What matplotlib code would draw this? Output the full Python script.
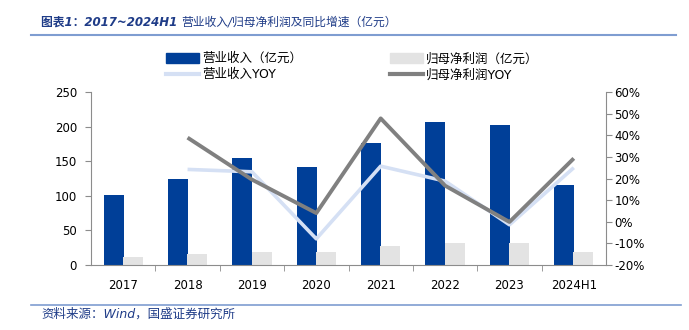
import matplotlib

matplotlib.use("Agg")
import matplotlib.pyplot as plt
from matplotlib.lines import Line2D
from matplotlib.patches import Patch
from matplotlib.ticker import FixedLocator
import numpy as np

plt.rcParams["font.family"] = ["DejaVu Sans", "Noto Sans CJK SC"]

# data
years = ["2017", "2018", "2019", "2020", "2021", "2022", "2023", "2024H1"]
revenue = [101, 125, 154, 141, 176, 207, 203, 116]          # 亿元
net_profit = [11, 15.5, 18.5, 18.5, 27.5, 32.5, 32, 19]     # 亿元
revenue_yoy = [None, 24.2, 23.1, -7.9, 25.7, 18.8, -1.4, 25.0]    # %
profit_yoy = [None, 38.9, 19.5, 4.0, 47.8, 16.7, -0.1, 29.3]      # %

left_ticks = [0, 50, 100, 150, 200, 250]
right_ticks = [-20, -10, 0, 10, 20, 30, 40, 50, 60]

C_REV = "#003F98"
C_PROFIT = "#E3E3E3"
C_REV_YOY = "#D5E0F4"
C_PROFIT_YOY = "#808080"
C_TITLE = "#1F3C88"
C_RULE = "#7F9DD1"
C_AXIS = "#8C8C8C"

fig = plt.figure(figsize=(6.89, 3.30), dpi=100)
ax = fig.add_axes([91 / 689, 1 - 265 / 330, (606 - 91) / 689, (265 - 92) / 330])
ax2 = ax.twinx()

x = np.arange(len(years))
w = 0.31
ax.bar(x - 0.15, revenue, width=w, color=C_REV, zorder=2)
ax.bar(x + 0.15, net_profit, width=w, color=C_PROFIT, zorder=2)

xs = x[1:]
ax2.plot(xs, revenue_yoy[1:], color=C_REV_YOY, linewidth=2.6, solid_capstyle="butt")
ax2.plot(xs, profit_yoy[1:], color=C_PROFIT_YOY, linewidth=2.8, solid_capstyle="butt")

ax.set_xlim(-0.5, len(years) - 0.5)
ax.set_ylim(0, 250)
ax2.set_ylim(-20, 60)
ax.set_yticks(left_ticks)
ax2.set_yticks(right_ticks)
ax2.set_yticklabels([f"{t}%" for t in right_ticks])

ax.set_xticks(x)
ax.set_xticklabels(years)
ax.xaxis.set_minor_locator(FixedLocator(np.arange(0.5, len(years) - 0.5, 1)))
ax.tick_params(axis="x", which="major", length=0, pad=10, labelsize=8.5)
ax.tick_params(axis="x", which="minor", length=4, direction="out", color=C_AXIS)
ax.tick_params(axis="y", length=4, direction="out", color=C_AXIS, pad=6, labelsize=8.5)
ax2.tick_params(axis="y", length=4, direction="out", color=C_AXIS, pad=2, labelsize=8.5)

for a in (ax, ax2):
    a.spines["top"].set_visible(False)
    for side in ("left", "right", "bottom"):
        a.spines[side].set_color(C_AXIS)
ax.spines["right"].set_visible(False)
ax2.spines["left"].set_visible(False)
ax2.spines["bottom"].set_visible(False)

handles = [
    Patch(color=C_REV),
    Line2D([], [], color=C_REV_YOY, linewidth=3),
    Patch(color=C_PROFIT),
    Line2D([], [], color=C_PROFIT_YOY, linewidth=3),
]
labels = ["营业收入（亿元）", "营业收入YOY", "归母净利润（亿元）", "归母净利润YOY"]
fig.legend(
    handles,
    labels,
    ncol=2,
    loc="upper left",
    bbox_to_anchor=(155 / 689, 1 - 41 / 330),
    frameon=False,
    fontsize=9,
    handlelength=2.6,
    handleheight=0.9,
    handletextpad=0.3,
    columnspacing=7.0,
    labelspacing=0.25,
)

# header and footer
head = fig.text(41 / 689, 1 - 22 / 330, "图表1：2017~2024H1 ",
                color=C_TITLE, fontsize=8.5, fontweight="bold", style="italic", va="center")
fig.canvas.draw()
bb = head.get_window_extent()
fig.text(bb.x1 / 689, 1 - 22 / 330, "营业收入/归母净利润及同比增速（亿元）",
         color=C_TITLE, fontsize=8.5, style="italic", va="center")
fig.add_artist(Line2D([31 / 689, 676 / 689], [1 - 35 / 330] * 2, color=C_RULE, linewidth=1.5))
fig.add_artist(Line2D([31 / 689, 681 / 689], [1 - 304.5 / 330] * 2, color=C_RULE, linewidth=1.2))
fig.text(41 / 689, 1 - 314 / 330, "资料来源：Wind，国盛证券研究所",
         color=C_TITLE, fontsize=9, style="italic", va="center")

fig.savefig("out.png", dpi=100)
